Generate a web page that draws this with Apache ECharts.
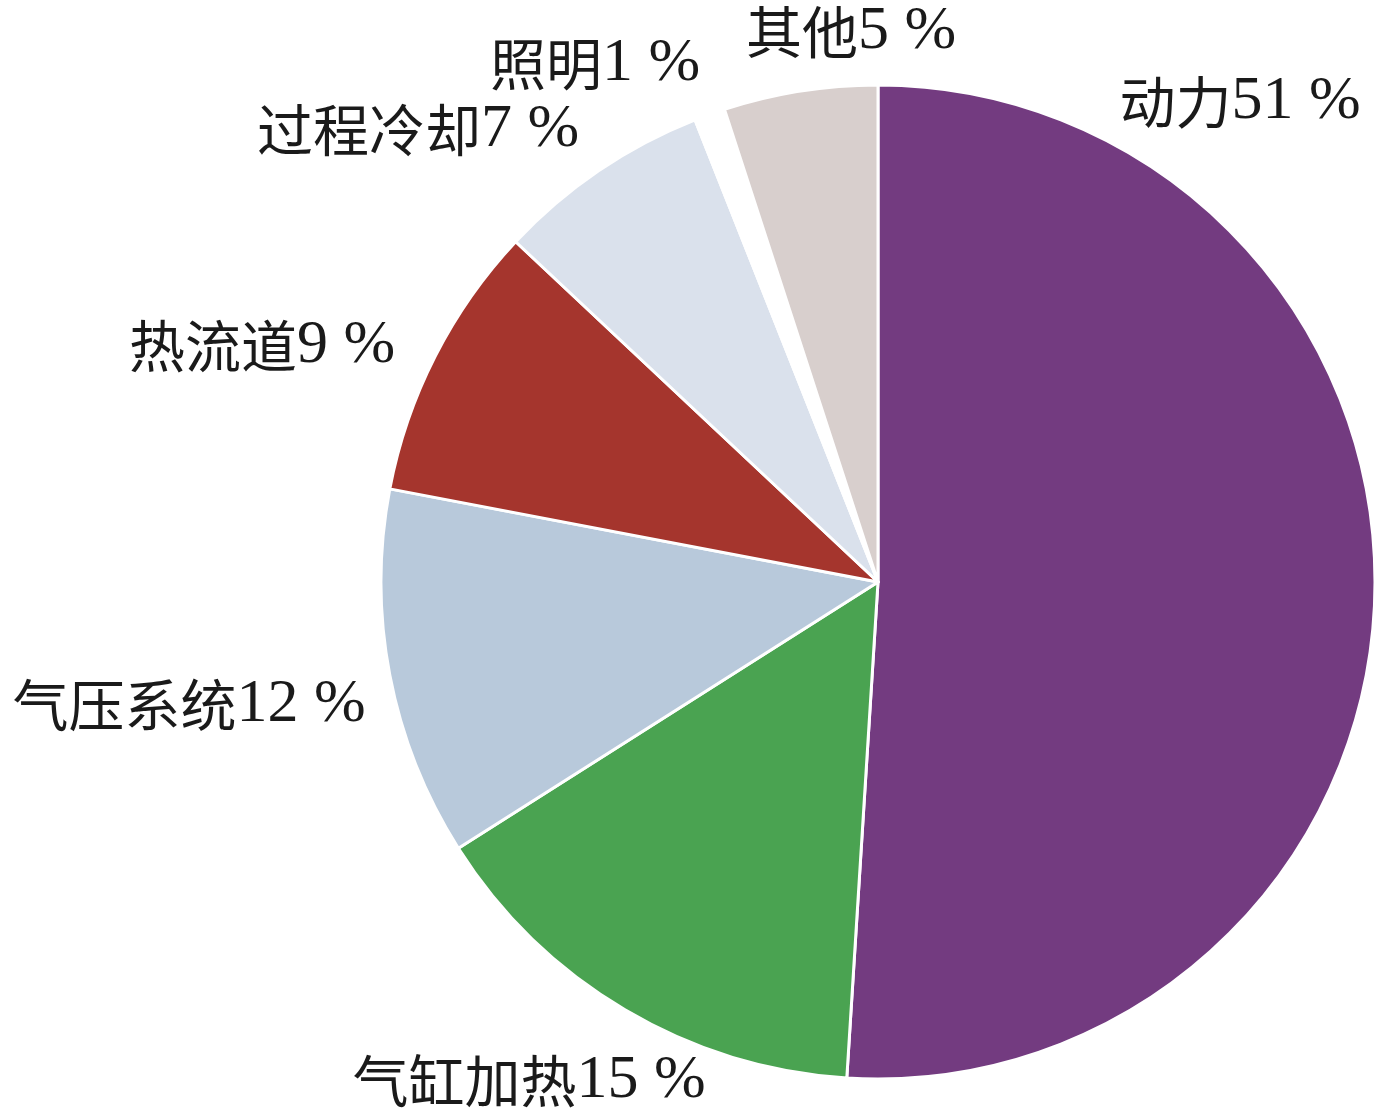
<!DOCTYPE html>
<html>
<head>
<meta charset="utf-8">
<script src="https://cdn.jsdelivr.net/npm/echarts@6/dist/echarts.min.js"></script>
<style>
  html, body { margin: 0; padding: 0; background: #ffffff; }
  #chart { width: 1375px; height: 1114px; }
</style>
</head>
<body>
<div id="chart"></div>
<script>
// Energy consumption breakdown (percent), clockwise from 12 o'clock
const categories = ['动力', '气缸加热', '气压系统', '热流道', '过程冷却', '照明', '其他'];
const shares = [51, 15, 12, 9, 7, 1, 5];
const sliceColors = ['#733B80', '#4AA351', '#B8C9DB', '#A5352D', '#DAE1EC', '#FFFFFF', '#D8CFCD'];

// Where each slice's label sits (label centre, px)
const labelSpots = [
  [1240, 102], [529, 1081], [189, 705], [262, 346], [418, 130], [595, 64], [851, 32]
];

const chart = echarts.init(document.getElementById('chart'), null, { renderer: 'canvas' });

chart.setOption({
  backgroundColor: '#ffffff',
  animation: false,
  series: [{
    type: 'pie',
    center: [878, 582],
    radius: [0, 497],
    startAngle: 90,
    clockwise: true,
    avoidLabelOverlap: false,
    data: categories.map((name, i) => ({
      name,
      value: shares[i],
      itemStyle: { color: sliceColors[i] }
    })),
    itemStyle: { borderColor: '#ffffff', borderWidth: 3 },
    emphasis: { disabled: true },
    label: {
      show: true,
      position: 'outside',
      formatter: p => '{t|' + p.name + '}{n|' + p.value + ' %}',
      rich: {
        t: {
          fontFamily: '"Noto Sans CJK SC", sans-serif',
          fontSize: 56,
          color: '#1a1a1a'
        },
        n: {
          fontFamily: '"Liberation Serif", serif',
          fontSize: 62,
          color: '#1a1a1a'
        }
      }
    },
    labelLine: { show: false },
    labelLayout: params => ({
      x: labelSpots[params.dataIndex][0],
      y: labelSpots[params.dataIndex][1],
      align: 'center',
      verticalAlign: 'middle'
    })
  }]
});
</script>
</body>
</html>
